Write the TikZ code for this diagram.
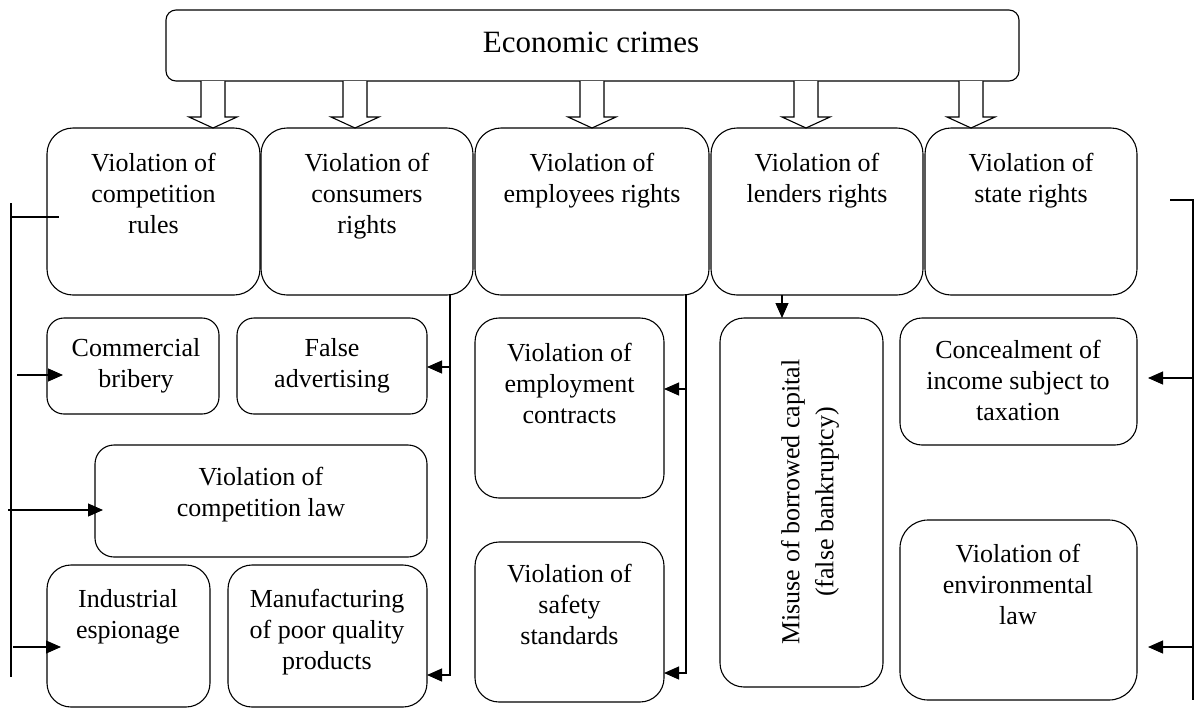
\documentclass[tikz,border=0pt]{standalone}
\usepackage{fontspec}
\setmainfont{Liberation Serif}
\usetikzlibrary{calc,arrows.meta}
\begin{document}
\begin{tikzpicture}[x=1pt,y=-1pt,
  every path/.style={line width=1.1pt},
  box/.style={draw, rounded corners=22pt, inner sep=0pt, outer sep=0pt},
  txt/.style={font=\fontsize{26}{31}\selectfont, align=center, anchor=base, inner sep=0pt},
  arr/.style={-{Triangle[length=15pt,width=13pt]}},
  hollow/.pic={\draw[fill=white] (-12,0) -- (-12,36) -- (-24,36) -- (0,47) -- (24,36) -- (12,36) -- (12,0);}
]
\useasboundingbox (0,0) rectangle (1194,710);
% top
\node[box, rounded corners=10pt, minimum width=853pt, minimum height=71pt] (top) at (592.5,45.5) {};
\node[txt, font=\fontsize{31}{36}\selectfont] (toptxt) at (591,52) {Economic crimes};
% hollow arrows
\foreach \ax in {213,355,592,806,971} { \pic at (\ax,81) {hollow}; }
% row 1
\begin{scope}[every node/.append style={}]
\node[box, rounded corners=26pt, minimum width=213pt, minimum height=167pt] (r1) at (153.5,211.5) {};
\node[box, rounded corners=26pt, minimum width=212pt, minimum height=167pt] (r2) at (367,211.5) {};
\node[box, rounded corners=26pt, minimum width=234pt, minimum height=167pt] (r3) at (592,211.5) {};
\node[box, rounded corners=26pt, minimum width=212pt, minimum height=167pt] (r4) at (817,211.5) {};
\node[box, rounded corners=26pt, minimum width=212pt, minimum height=167pt] (r5) at (1031,211.5) {};
\end{scope}
\node[txt] (t1) at (153.5,233) {Violation of\\competition\\rules};
\node[txt] (t2) at (367,233) {Violation of\\consumers\\rights};
\node[txt] (t3) at (592,202) {Violation of\\employees rights};
\node[txt] (t4) at (817,202) {Violation of\\lenders rights};
\node[txt] (t5) at (1031,202) {Violation of\\state rights};
% lower boxes
\node[box, rounded corners=17pt, minimum width=172pt, minimum height=96pt] (cb) at (133,366) {};
\node[txt] (cbt) at (136,387) {Commercial\\bribery};
\node[box, rounded corners=17pt, minimum width=190pt, minimum height=96pt] (fa) at (332,366) {};
\node[txt] (fat) at (332,387) {False\\advertising};
\node[box, rounded corners=19pt, minimum width=332pt, minimum height=112pt] (cl) at (261,501) {};
\node[txt] (clt) at (261,516) {Violation of\\competition law};
\node[box, rounded corners=24pt, minimum width=163pt, minimum height=142pt] (ie) at (128.5,636) {};
\node[txt] (iet) at (128,638) {Industrial\\espionage};
\node[box, rounded corners=24pt, minimum width=199pt, minimum height=142pt] (mp) at (327.5,636) {};
\node[txt] (mpt) at (327,669) {Manufacturing\\of poor quality\\products};
\node[box, rounded corners=24pt, minimum width=189pt, minimum height=180pt] (ec) at (569.5,408) {};
\node[txt] (ect) at (569.5,423) {Violation of\\employment\\contracts};
\node[box, rounded corners=24pt, minimum width=189pt, minimum height=160pt] (ss) at (569.5,622) {};
\node[txt] (sst) at (569.5,644) {Violation of\\safety\\standards};
\node[box, rounded corners=24pt, minimum width=163pt, minimum height=369pt] (mb) at (801.5,502.5) {};
\node[font=\fontsize{26}{34}\selectfont, align=center, inner sep=0pt, rotate=90] (mbt) at (810,502) {Misuse of borrowed capital\\(false bankruptcy)};
\node[box, rounded corners=22pt, minimum width=237pt, minimum height=127pt] (ct) at (1018.5,381.5) {};
\node[txt] (ctt) at (1018,420) {Concealment of\\income subject to\\taxation};
\node[box, rounded corners=28pt, minimum width=237pt, minimum height=180pt] (el) at (1018.5,610) {};
\node[txt] (elt) at (1018,624) {Violation of\\environmental\\law};
% left bus
\coordinate (LA) at (11,203);
\coordinate (LB) at (11,677);
\draw (LA) -- (LB);
\draw (11,217) -- ($(r1.west |- 0,217)+(12,0)$);
\draw[arr] (17,375) -- ($(cb.west |- 0,375)+(16,0)$);
\draw[arr] (8,510) -- ($(cl.west |- 0,510)+(8,0)$);
\draw[arr] (13,647) -- ($(ie.west |- 0,647)+(14,0)$);
% consumers bus
\draw[arr] (r2.south -| 450,0) -- (450,675) -- (mp.east |- 0,675);
\draw[arr] (450,367) -- (fa.east |- 0,367);
% employees bus
\draw[arr] (r3.south -| 686,0) -- (686,673) -- (ss.east |- 0,673);
\draw[arr] (686,389) -- (ec.east |- 0,389);
% lenders
\draw[arr] (r4.south -| 782,0) -- (mb.north -| 782,0);
% right bus
\coordinate (RA) at (1170,200);
\coordinate (RB) at (1193,700);
\draw (RA) -- (1193,200) -- (RB);
\draw[arr] (1193,378) -- ($(ct.east |- 0,378)+(11,0)$);
\draw[arr] (1193,647) -- ($(el.east |- 0,647)+(11,0)$);
\end{tikzpicture}
\end{document}
